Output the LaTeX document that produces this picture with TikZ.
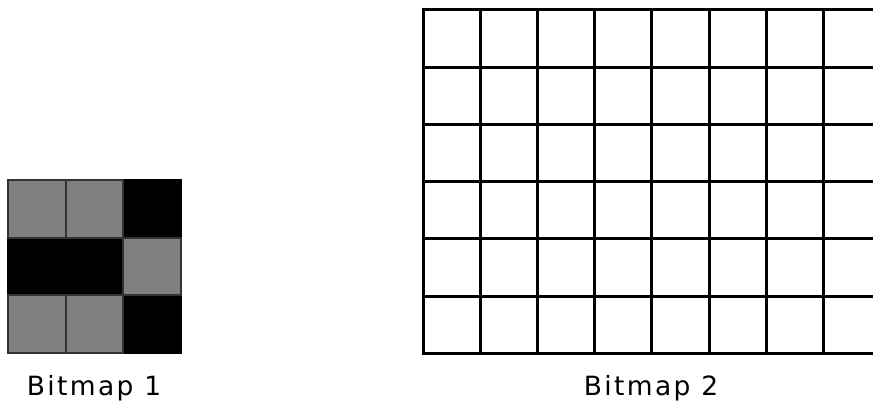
\documentclass[tikz,border=0pt]{standalone}
\usepackage{fontspec}
\setmainfont{DejaVu Sans}[LetterSpace=9]
\definecolor{cellgray}{HTML}{808080}
\definecolor{gridgray}{HTML}{333333}
\begin{document}
\begin{tikzpicture}[x=1pt,y=-1pt,
  graycell/.style={fill=cellgray,draw=gridgray,line width=2pt},
  blackcell/.style={fill=black,draw=black,line width=2pt},
  bigline/.style={line width=3pt,black},
  caption/.style={font=\fontsize{26.5}{30}\selectfont,anchor=base,inner sep=0pt}]
\useasboundingbox (0,0) rectangle (873,406);
\clip (0,0) rectangle (873,406);
% Bitmap 1 (3x3)
\def\bx{8}\def\by{180}\def\bs{57.7}
\foreach \r/\c/\s in {0/2/blackcell,1/0/blackcell,1/1/blackcell,2/2/blackcell,
                      0/0/graycell,0/1/graycell,1/2/graycell,
                      2/0/graycell,2/1/graycell}{
  \path[\s] ({\bx+\c*\bs},{\by+\r*\bs}) rectangle ++(\bs,\bs);
}
% Bitmap 2 (grid)
\foreach \i in {0,...,6}{
  \draw[bigline] (421.5,{10+\i*57.2}) -- (873,{10+\i*57.2});
}
\foreach \j in {0,...,7}{
  \draw[bigline] ({423+\j*57.2},8.5) -- ({423+\j*57.2},354.7);
}
\node[caption] (cap1) at (94,395) {Bitmap 1};
\node[caption] (cap2) at (651,395) {Bitmap 2};
\end{tikzpicture}
\end{document}
